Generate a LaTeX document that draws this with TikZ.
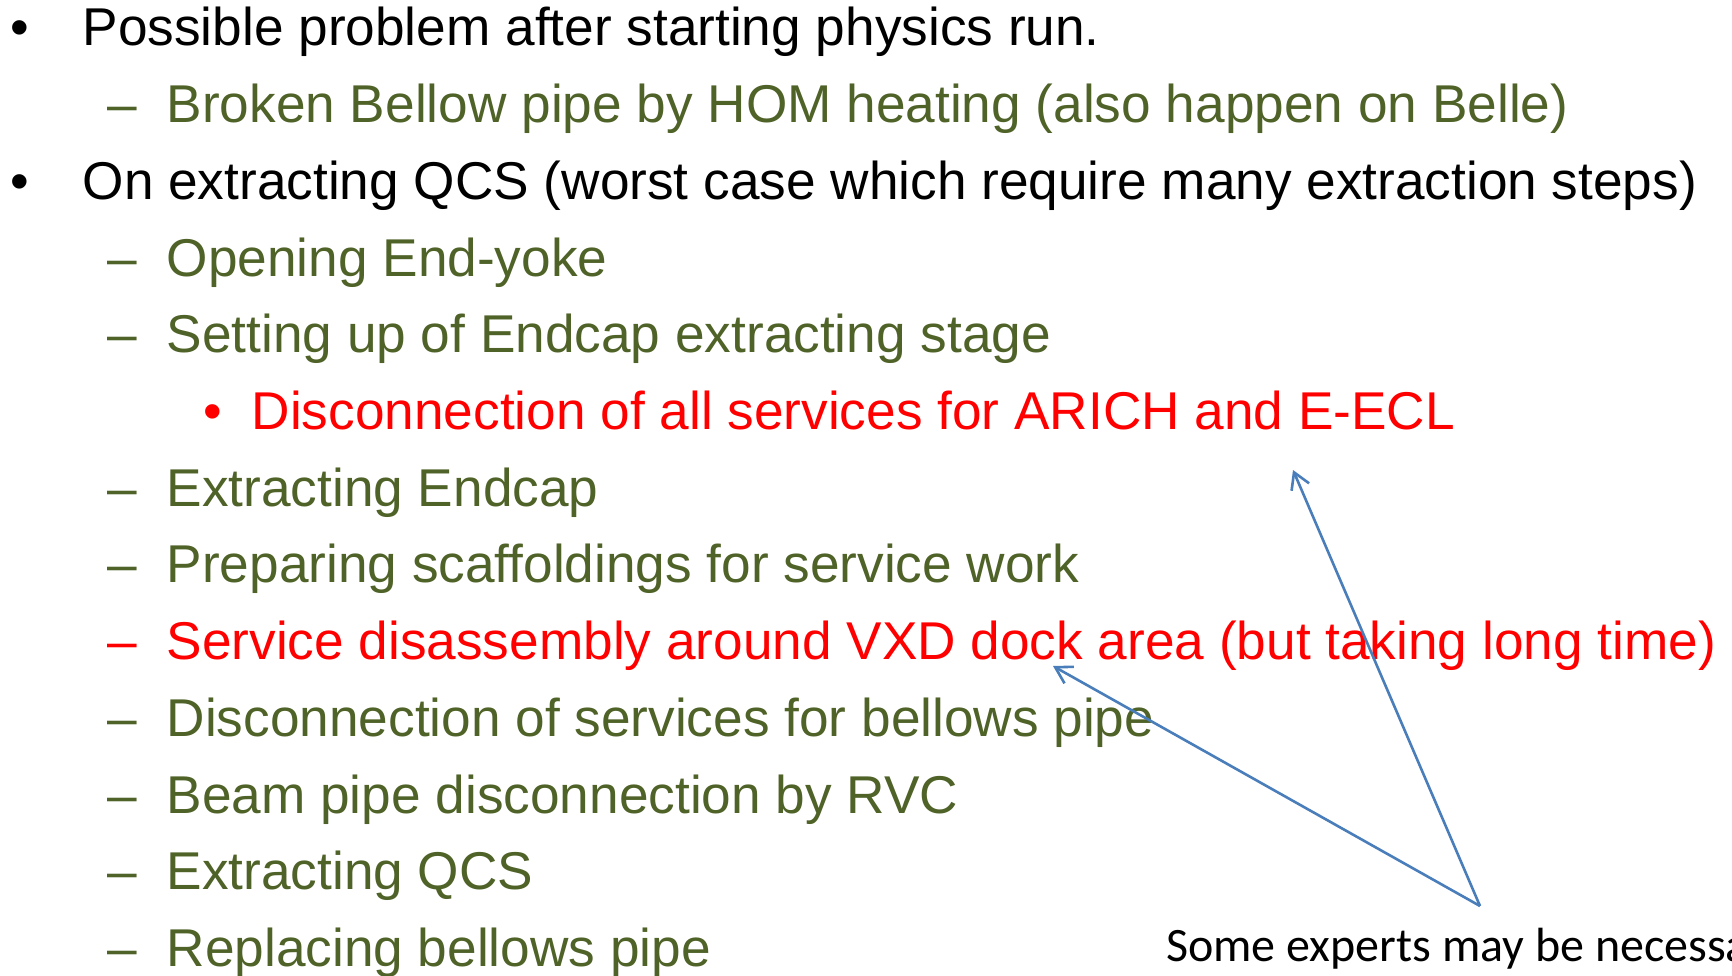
\documentclass[tikz,border=0pt]{standalone}
\usepackage{fontspec}
\setmainfont{Liberation Sans}
\newfontfamily\calibrifont{Carlito}
\usetikzlibrary{arrows.meta}
\definecolor{olivetxt}{HTML}{4F6228}
\definecolor{redtxt}{HTML}{FF0000}
\definecolor{arrowblue}{HTML}{4A7EBB}
\begin{document}
\begin{tikzpicture}[x=1pt,y=-1pt,
  txt/.style={anchor=base west,inner sep=0pt,font=\fontsize{53.2}{64}\selectfont},
  lvlone/.style={txt,text=black},
  lvltwo/.style={txt,text=olivetxt},
  hot/.style={txt,text=redtxt},
  note/.style={anchor=base west,inner sep=0pt,font=\calibrifont\fontsize{48}{58}\selectfont,text=black},
  pointer/.style={draw=arrowblue,line width=2.6pt,-{Straight Barb[length=16pt,width=19pt,line width=2.6pt]}}]
\useasboundingbox (0,0) rectangle (1732,976);
\clip (0,0) rectangle (1732,976);
% level-one bullets
\node[lvlone] (b0) at (10,46) {•};
\node[lvlone] (t0) at (82.5,46) {Possible problem after starting physics run.};
\node[lvlone] (b2) at (10,199.4) {•};
\node[lvlone] (t2) at (82.5,199.4) {On extracting QCS (worst case which require many extraction steps)};
% level-two items
\node[lvltwo] (d1) at (107,122.7) {–};
\node[lvltwo] (t1) at (166.5,122.7) {Broken Bellow pipe by HOM heating (also happen on Belle)};
\node[lvltwo] (d3) at (107,276.1) {–};
\node[lvltwo] (t3) at (166.5,276.1) {Opening End-yoke};
\node[lvltwo] (d4) at (107,352.8) {–};
\node[lvltwo] (t4) at (166.5,352.8) {Setting up of Endcap extracting stage};
\node[hot] (b5) at (203,429.5) {•};
\node[hot] (t5) at (251.5,429.5) {Disconnection of all services for ARICH and E-ECL};
\node[lvltwo] (d6) at (107,506.2) {–};
\node[lvltwo] (t6) at (166.5,506.2) {Extracting Endcap};
\node[lvltwo] (d7) at (107,582.9) {–};
\node[lvltwo] (t7) at (166.5,582.9) {Preparing scaffoldings for service work};
\node[hot] (d8) at (107,659.6) {–};
\node[hot] (t8) at (166.5,659.6) {Service disassembly around VXD dock area (but taking long time)};
\node[lvltwo] (d9) at (107,736.3) {–};
\node[lvltwo] (t9) at (166.5,736.3) {Disconnection of services for bellows pipe};
\node[lvltwo] (d10) at (107,813) {–};
\node[lvltwo] (t10) at (166.5,813) {Beam pipe disconnection by RVC};
\node[lvltwo] (d11) at (107,889.7) {–};
\node[lvltwo] (t11) at (166.5,889.7) {Extracting QCS};
\node[lvltwo] (d12) at (107,966.4) {–};
\node[lvltwo] (t12) at (166.5,966.4) {Replacing bellows pipe};
% note and pointers
\node[note] (experts) at (1166,961) {Some experts may be necessary};
\coordinate (apex) at (1480,906);
\coordinate (tipA) at (1293,470);
\coordinate (tipB) at (1053,666);
\draw[pointer] (apex) -- (tipA);
\draw[pointer] (apex) -- (tipB);
\end{tikzpicture}
\end{document}
